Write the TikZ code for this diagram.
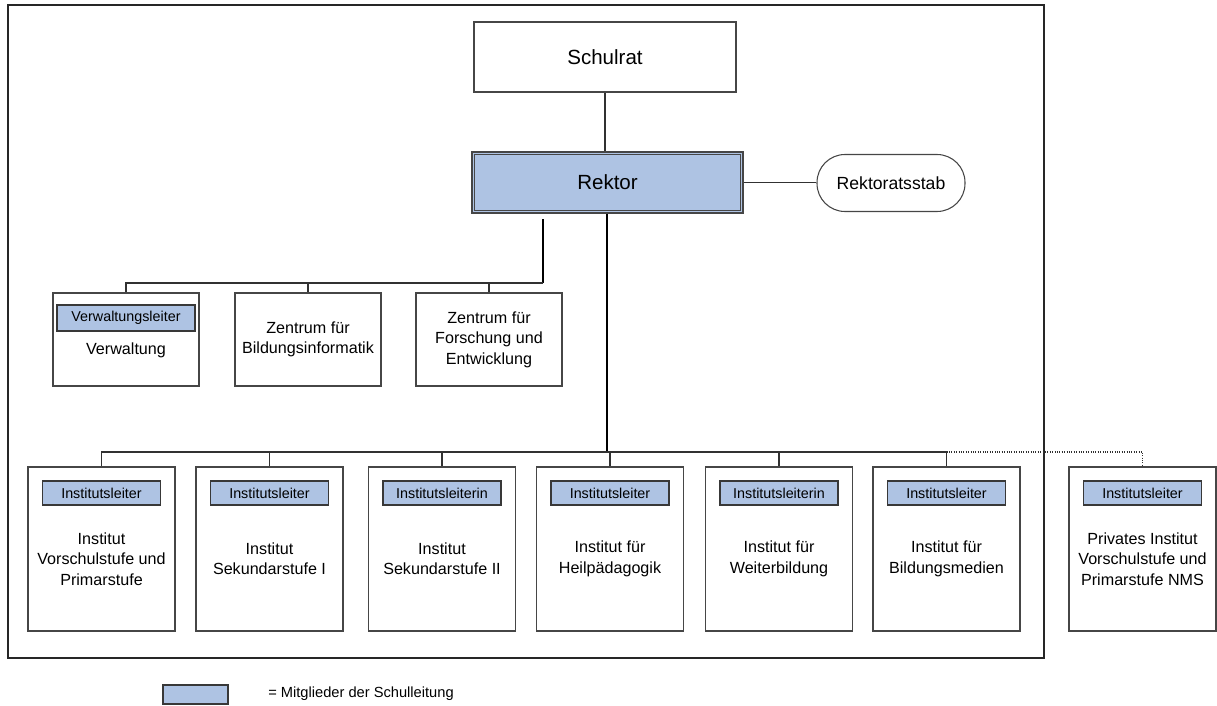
\documentclass[tikz,border=0pt]{standalone}
\usepackage{fontspec}
\setmainfont{Liberation Sans}
\definecolor{lead}{RGB}{174,195,227}
\definecolor{edge}{RGB}{70,70,70}
\tikzset{
  unitbox/.style={draw=edge, line width=0.8pt, fill=white, inner sep=0pt},
  leadbox/.style={draw=edge!80!black, line width=0.8pt, fill=lead, inner sep=0pt,
     font=\fontsize{10.75}{13}\selectfont},
  bodytext/.style={align=center, inner sep=0pt, font=\fontsize{12.1}{15.3}\selectfont},
  conn/.style={draw=edge!70!black, line width=0.8pt},
  thickconn/.style={draw=black, line width=1.8pt},
}
\begin{document}
\begin{tikzpicture}[x=0.75pt,y=-0.75pt]
\useasboundingbox (0,0) rectangle (1217,706);
% outer frame
\draw[line width=1.5pt, draw=black!85] (8,5) rectangle (1044,658);

% top
\node[unitbox, minimum width=196.5pt, minimum height=52.5pt,
      font=\fontsize{15.4}{18}\selectfont] (schulrat) at (605,57) {Schulrat};
\node[draw=edge, line width=1.1pt, fill=lead, minimum width=203.25pt, minimum height=45.75pt,
      inner sep=0pt] (rektor) at (607.5,182.5) {};
\draw[edge, line width=0.8pt] ([shift={(3,3)}]rektor.north west) rectangle ([shift={(-3,-3)}]rektor.south east);
\node[font=\fontsize{15.4}{18}\selectfont] (rektortext) at (rektor.center) {Rektor};
\node[unitbox, minimum width=111pt, minimum height=42.75pt, rounded corners=21pt,
      font=\fontsize{13.2}{15}\selectfont] (stab) at (891,183) {Rektoratsstab};

\draw[conn] (schulrat.south) -- (schulrat.south |- rektor.north);
\draw[conn] (rektor.east) -- (rektor.east -| stab.west);

% second row
\node[unitbox, minimum width=109.5pt, minimum height=69.75pt] (verw) at (126,339.5) {};
\node[leadbox, minimum width=103.5pt, minimum height=19.5pt] (verwl) at (126,318) {Verwaltungsleiter};
\node[bodytext] (verwt) at (126,350) {Verwaltung};
\node[unitbox, minimum width=109.5pt, minimum height=69.75pt] (zbi) at (308,339.5) {};
\node[bodytext] (zbit) at (308,339.5) {Zentrum f\"ur\\Bildungsinformatik};
\node[unitbox, minimum width=109.5pt, minimum height=69.75pt] (zfe) at (489,339.5) {};
\node[bodytext] (zfet) at (489,339.5) {Zentrum f\"ur\\Forschung und\\Entwicklung};

\coordinate (b2top) at (543,219);
\coordinate (b2mid) at (543,283);
\draw[thickconn] (b2top) -- (b2mid);
\draw[conn] (b2mid) -- (verw.north |- b2mid) -- (verw.north);
\draw[conn] (zbi.north |- b2mid) -- (zbi.north);
\draw[conn] (zfe.north |- b2mid) -- (zfe.north);

% third row
\foreach \n/\x/\lab/\txt in {
  i1/101.5/Institutsleiter/{Institut\\Vorschulstufe und\\Primarstufe},
  i2/269.5/Institutsleiter/{Institut\\Sekundarstufe I},
  i3/442/Institutsleiterin/{Institut\\Sekundarstufe II},
  i4/610/Institutsleiter/{Institut f\"ur\\Heilp\"adagogik},
  i5/779/Institutsleiterin/{Institut f\"ur\\Weiterbildung},
  i6/946.5/Institutsleiter/{Institut f\"ur\\Bildungsmedien},
  i7/1142.5/Institutsleiter/{Privates Institut\\Vorschulstufe und\\Primarstufe NMS}}{
  \node[unitbox, minimum width=110.25pt, minimum height=123pt] (\n) at (\x,549) {};
  \node[leadbox, minimum width=88.5pt, minimum height=18pt] (\n l) at (\x,493) {\lab};
  \node[bodytext] (\n t) at (\x,559) {\txt};
}

\coordinate (bus3) at (607,452);
\draw[thickconn] (rektor.south -| bus3) -- ([yshift=-0.5]bus3);
\draw[conn] (i1.north) -- (i1.north |- bus3) -- (i6.north |- bus3) -- (i6.north);
\foreach \n in {i2,i3,i4,i5}{\draw[conn] (\n.north |- bus3) -- (\n.north);}
\draw[conn, densely dotted] (i6.north |- bus3) -- (i7.north |- bus3) -- (i7.north);

% legend
\node[leadbox, minimum width=48.75pt, minimum height=14.25pt] (legbox) at (195.5,694.5) {};
\node[anchor=west, inner sep=0pt, font=\fontsize{11}{12}\selectfont] (legtext) at (268,694) {= Mitglieder der Schulleitung};
\end{tikzpicture}
\end{document}
